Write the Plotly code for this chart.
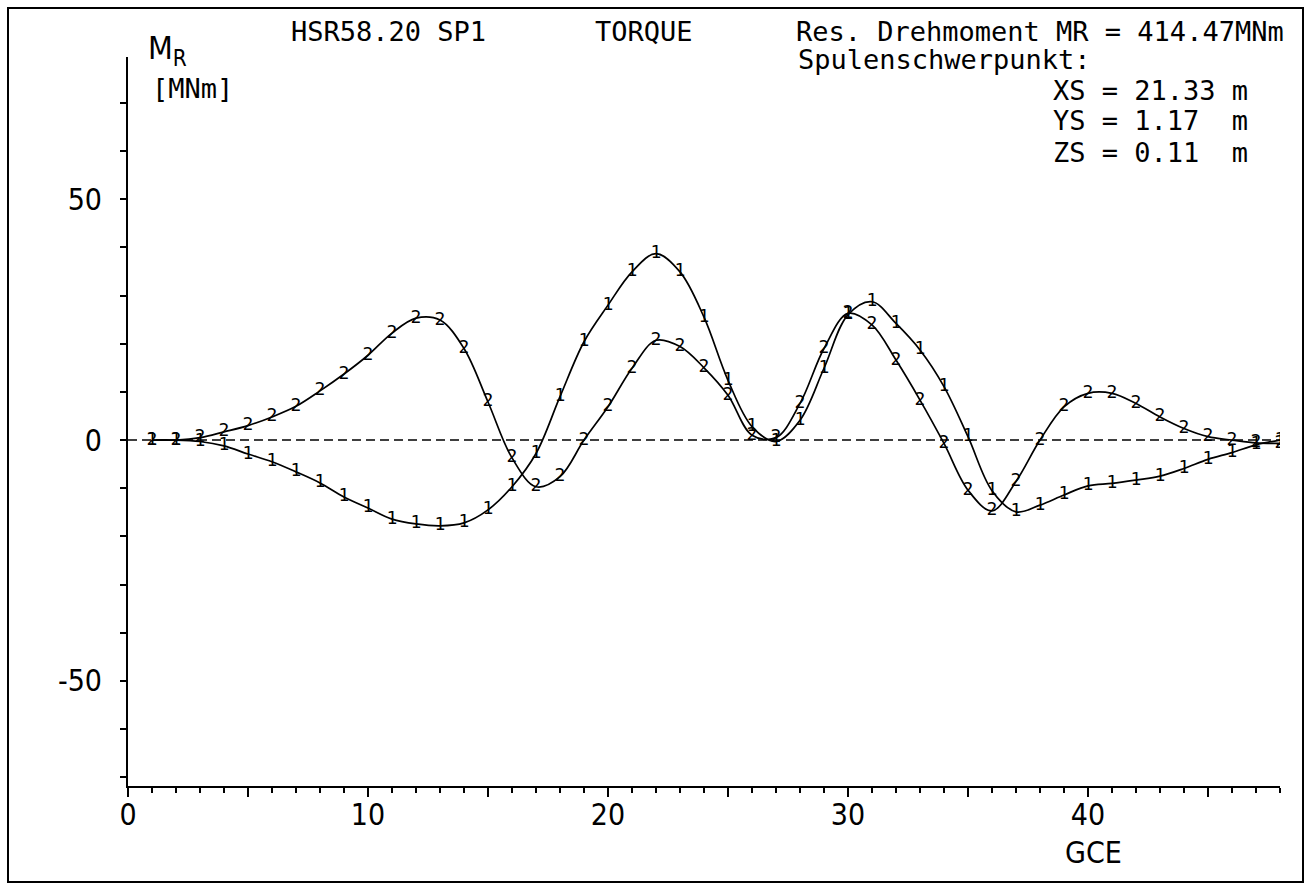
import plotly.graph_objects as go

# ---- data ----
gce = list(range(1, 49))
mr_1 = [0, 0, -0.3, -1.2, -2.9, -4.5, -6.6, -8.9, -11.8, -14.1, -16.4, -17.4,
        -17.8, -17.2, -14.5, -9.7, -2.8, 9.0, 20.4, 28.0, 34.9, 38.7, 34.9, 25.5,
        12.4, 2.8, -0.3, 4.1, 14.9, 26.0, 28.7, 24.2, 18.7, 11.1, 0.7, -10.5,
        -14.9, -13.5, -11.4, -9.5, -9.0, -8.3, -7.5, -5.9, -4.0, -2.6, -1.0, 0.0]
mr_2 = [0, 0, 0.5, 1.7, 3.0, 4.8, 7.0, 10.2, 13.7, 17.6, 22.2, 25.3,
        24.9, 19.0, 7.9, -3.7, -9.7, -7.6, 0.0, 6.9, 14.9, 20.7, 19.4, 15.0,
        9.3, 1.0, 0.5, 7.6, 19.0, 26.3, 23.9, 16.6, 8.3, -0.7, -10.4, -14.7,
        -8.6, 0.0, 6.9, 9.7, 9.7, 7.6, 4.8, 2.4, 0.7, 0.0, -0.6, -0.7]
series_labels = ["1", "2"]

x_major = [0, 5, 10, 15, 20, 25, 30, 35, 40, 45]
x_label = ["0", "", "10", "", "20", "", "30", "", "40", ""]
y_ticks = [-70, -60, -50, -40, -30, -20, -10, 0, 10, 20, 30, 40, 50, 60, 70]
y_label = ["", "", "-50", "", "", "", "", "0", "", "", "", "", "50", "", ""]

# ---- layout geometry ----
W, H = 1311, 885
L, R, T, B = 128, 1280, 57, 786


def px(x):
    return (x - L) / (R - L)


def py(y):
    return (B - y) / (B - T)


MONO = "DejaVu Sans Mono, Liberation Mono, monospace"
NARROW = "Liberation Sans Narrow, DejaVu Sans Condensed, Liberation Sans, sans-serif"

fig = go.Figure()
for vals, lab in zip([mr_1, mr_2], series_labels):
    fig.add_trace(go.Scatter(
        x=gce, y=vals, mode="lines+text",
        text=[lab] * len(gce), textposition="middle center",
        textfont=dict(family=MONO, size=18, color="black"),
        line=dict(color="black", width=1.7, shape="spline", smoothing=1.0),
        showlegend=False, hoverinfo="x+y",
    ))

shapes = [
    # zero line (dashed)
    dict(type="line", xref="x", yref="y", x0=0, x1=48, y0=0, y1=0,
         line=dict(color="black", width=1.4, dash="9px,5px")),
    # outer frame
    dict(type="rect", xref="paper", yref="paper",
         x0=px(8), x1=px(1303), y0=py(882), y1=py(8),
         line=dict(color="black", width=2)),
]

ann = []


def add_text(txt, x, y, size=27, family=MONO, xanchor="left"):
    ann.append(dict(text=txt, x=px(x), y=py(y), xref="paper", yref="paper",
                    xanchor=xanchor, yanchor="middle", showarrow=False,
                    font=dict(family=family, size=size, color="black")))


add_text("M<sub>R</sub>", 146, 50, size=32, family=NARROW)
add_text("[MNm]", 150, 88, size=27)
add_text("HSR58.20 SP1", 289, 31)
add_text("TORQUE", 593, 31)
add_text("Res. Drehmoment MR = 414.47MNm", 794, 31)
add_text("Spulenschwerpunkt:", 796, 60)
add_text("XS = 21.33 m", 1051, 90)
add_text("YS = 1.17  m", 1051, 120)
add_text("ZS = 0.11  m", 1051, 152)
add_text("GCE", 1093, 852, size=30, family=NARROW, xanchor="center")

fig.update_layout(
    width=W, height=H,
    margin=dict(l=L, r=W - R, t=T, b=H - B),
    paper_bgcolor="white", plot_bgcolor="white",
    shapes=shapes, annotations=ann,
    xaxis=dict(range=[0, 48], showgrid=False, zeroline=False,
               showline=True, linecolor="black", linewidth=2,
               tickmode="array", tickvals=x_major, ticktext=x_label,
               ticks="outside", ticklen=9, tickwidth=2, tickcolor="black",
               ticklabelstandoff=-8,
               minor=dict(dtick=1, ticks="outside", ticklen=5, tickwidth=1.5,
                          tickcolor="black", showgrid=False),
               tickfont=dict(family=NARROW, size=30, color="black")),
    yaxis=dict(range=[-71.8, 79.5], showgrid=False, zeroline=False,
               showline=True, linecolor="black", linewidth=2,
               tickmode="array", tickvals=y_ticks, ticktext=y_label,
               ticks="outside", ticklen=6, tickwidth=1.5, tickcolor="black",
               ticklabelstandoff=12,
               tickfont=dict(family=NARROW, size=30, color="black")),
)

fig.write_html("out.html")
